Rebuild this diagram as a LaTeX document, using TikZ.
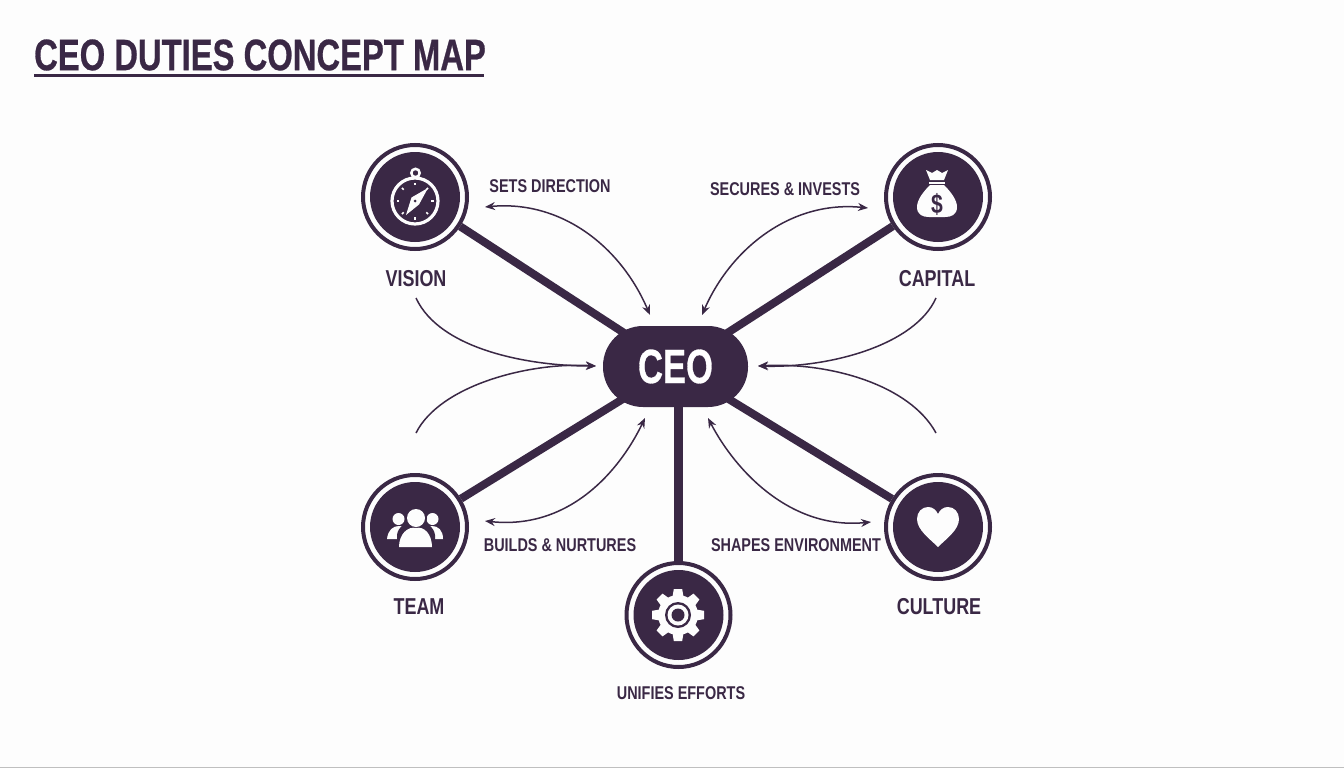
\documentclass[tikz,border=0pt]{standalone}
\usepackage{fontspec}
\setmainfont{Liberation Sans}[FakeStretch=0.78,BoldFont={Liberation Sans Bold}]
\newfontfamily\titlefont{Liberation Sans Bold}[FakeStretch=0.745,FakeBold=0.6]
\newfontfamily\hubfont{Liberation Sans Bold}[FakeStretch=0.72,FakeBold=0.6]
\usetikzlibrary{arrows.meta}
\definecolor{ink}{HTML}{3A2845}
\definecolor{paper}{HTML}{FDFDFD}
\tikzset{
  x=1pt,y=-1pt,
  ring/.style={circle,draw=ink,line width=4pt,fill=paper,minimum size=104pt,inner sep=0pt},
  disc/.style={fill=ink,draw=none},
  spoke/.style={draw=ink,line width=8pt},
  tohub/.style={spoke,shorten >=-16pt},
  link/.style={draw=ink,line width=1.5pt},
  both/.style={link,{Stealth[length=10pt,width=8pt]}-{Stealth[length=10pt,width=8pt]}},
  onearrow/.style={link,-{Stealth[length=10pt,width=8pt]}},
  hub/.style={fill=ink,rounded corners=40pt,minimum width=145pt,minimum height=81pt,inner sep=0pt,text=white,font=\hubfont\fontsize{48}{48}\selectfont},
  dutyname/.style={text=ink,inner sep=0pt,font=\bfseries\fontsize{23}{23}\selectfont},
  verb/.style={text=ink,inner sep=0pt,font=\bfseries\fontsize{18.5}{18.5}\selectfont}
}
\begin{document}
\begin{tikzpicture}
\useasboundingbox (0,0) rectangle (1344,768);
\fill[paper] (0,0) rectangle (1344,768);
\draw[black!25,line width=1pt] (0,767.5) -- (1344,767.5);
% title
\node[anchor=west,text=ink,inner sep=0pt,font=\titlefont\fontsize{44}{44}\selectfont] (title) at (34,55) {CEO DUTIES CONCEPT MAP};
\coordinate (ulA) at (34,76); \coordinate (ulB) at (484,76);
\draw[ink,line width=3pt] (ulA) -- (ulB);
% nodes
\node[ring] (vision) at (415,197) {};
\node[ring] (capital) at (938,197) {};
\node[ring] (team) at (415,527) {};
\node[ring] (culture) at (938,527) {};
\node[ring] (unify) at (678.5,615) {};
\node[hub] (ceo) at (675.5,366.5) {CEO};
% spokes
\draw[tohub] (vision) -- (ceo);
\draw[tohub] (capital) -- (ceo);
\draw[tohub] (team) -- (ceo);
\draw[tohub] (culture) -- (ceo);
\draw[spoke,line width=8.5pt] (unify.north) -- (unify.north |- ceo.south);
% inner discs
\fill[disc] (vision) circle (45);
\fill[disc] (capital) circle (45);
\fill[disc] (team) circle (45);
\fill[disc] (culture) circle (45);
\fill[disc] (unify) circle (45);
% compass
\begin{scope}[shift={(415,201)}]
  \draw[paper,line width=2.5pt] (0.5,-28) circle (4.2);
  \draw[paper,line width=3.2pt,fill=ink] (0,0) circle (23);
  \foreach \a in {0,45,...,315}{\draw[paper,line width=1.6pt] (\a:16) -- (\a:18.5);}
  \fill[paper] (13,-13) -- (4,3.5) -- (-9,14) -- (-3.5,-3.5) -- cycle;
  \fill[ink] (0,0) circle (1.5);
\end{scope}
% bag
\begin{scope}[shift={(937,197)}]
  \fill[paper] (-11,-27) -- (-5,-24) -- (0,-27) -- (5,-24) -- (11,-27) -- (7,-17) -- (-7,-17) -- cycle;
  \fill[paper] (-8,-15.5) rectangle (8,-13.5);
  \fill[paper] (-7,-12) .. controls (-14,-5) and (-20,3) .. (-20,10) .. controls (-20,18) and (-14,20) .. (-8,20) -- (8,20) .. controls (14,20) and (20,18) .. (20,10) .. controls (20,3) and (14,-5) .. (7,-12) -- cycle;
  \node[text=ink,inner sep=0pt,font=\bfseries\fontsize{27}{27}\selectfont] (dollar) at (0,7) {\$};
\end{scope}
% team
\begin{scope}[shift={(415,527)}]
  \fill[paper] (-16.5,-8) circle (6);
  \fill[paper] (17.5,-8) circle (6);
  \fill[paper] (-28,12) .. controls (-27,3) and (-22,-1) .. (-16,-1) -- (17,-1) .. controls (23,-1) and (28,3) .. (28,12) -- cycle;
  \fill[ink] (-18,20) -- (-18,8) .. controls (-17,0) and (-9,-6) .. (1,-6) .. controls (11,-6) and (19,0) .. (20,8) -- (20,20) -- cycle;
  \fill[ink] (1,-9) circle (11);
  \fill[paper] (1,-9) circle (9);
  \fill[paper] (-16,20) .. controls (-16,7) and (-7,-1) .. (1,1) .. controls (9,-1) and (17,7) .. (17,20) -- cycle;
\end{scope}
% gear
\begin{scope}[shift={(678,615)}]
  \fill[paper] (0,0) circle (20);
  \foreach \a in {0,45,...,315}{
    \begin{scope}[rotate=\a]
      \fill[paper] (-5.5,-18) -- (-4.2,-26) -- (4.2,-26) -- (5.5,-18) -- cycle;
    \end{scope}}
  \fill[ink] (0,0) circle (13);
  \fill[paper] (0,0) circle (10.5);
  \fill[ink] (0,0) circle (6.5);
\end{scope}
% heart
\begin{scope}[shift={(938,527)}]
  \fill[paper] (0,20) .. controls (-8,12) and (-21,3) .. (-21,-8) .. controls (-21,-15) and (-16,-20) .. (-10,-20) .. controls (-5,-20) and (-2,-17) .. (0,-13) .. controls (2,-17) and (5,-20) .. (10,-20) .. controls (16,-20) and (21,-15) .. (21,-8) .. controls (21,3) and (8,12) .. (0,20) -- cycle;
\end{scope}
% labels
\node[dutyname] (lvision) at (416,279) {VISION};
\node[dutyname] (lcapital) at (937,279) {CAPITAL};
\node[dutyname] (lteam) at (419,607) {TEAM};
\node[dutyname] (lculture) at (939,607) {CULTURE};
\node[verb] (vsets) at (550,186) {SETS DIRECTION};
\node[verb] (vsec) at (785,189) {SECURES \& INVESTS};
\node[verb] (vbuild) at (560,545) {BUILDS \& NURTURES};
\node[verb] (vshape) at (796,545) {SHAPES ENVIRONMENT};
\node[verb] (vunify) at (681,693) {UNIFIES EFFORTS};
% free ends of the thin connectors
\coordinate (a1) at (485,207); \coordinate (b1) at (650,315);
\coordinate (a2) at (868,208); \coordinate (b2) at (702,315);
\coordinate (a3) at (416,298); \coordinate (b3) at (596,366);
\coordinate (a4) at (416,433);
\coordinate (a5) at (936,298); \coordinate (b5) at (758,366);
\coordinate (a6) at (936,433);
\coordinate (a7) at (485,521); \coordinate (b7) at (645,418);
\coordinate (a8) at (871,522); \coordinate (b8) at (708,418);
\draw[both] (a1) .. controls (560,200) and (620,245) .. (b1);
\draw[both] (a2) .. controls (790,200) and (730,250) .. (b2);
\draw[onearrow] (a3) .. controls (440,350) and (530,366) .. (b3);
\draw[onearrow] (a4) .. controls (440,385) and (530,362) .. (b3);
\draw[onearrow] (a5) .. controls (915,345) and (830,368) .. (b5);
\draw[onearrow] (a6) .. controls (910,385) and (830,362) .. (b5);
\draw[both] (a7) .. controls (570,530) and (620,470) .. (b7);
\draw[both] (a8) .. controls (790,530) and (735,470) .. (b8);
\end{tikzpicture}
\end{document}
